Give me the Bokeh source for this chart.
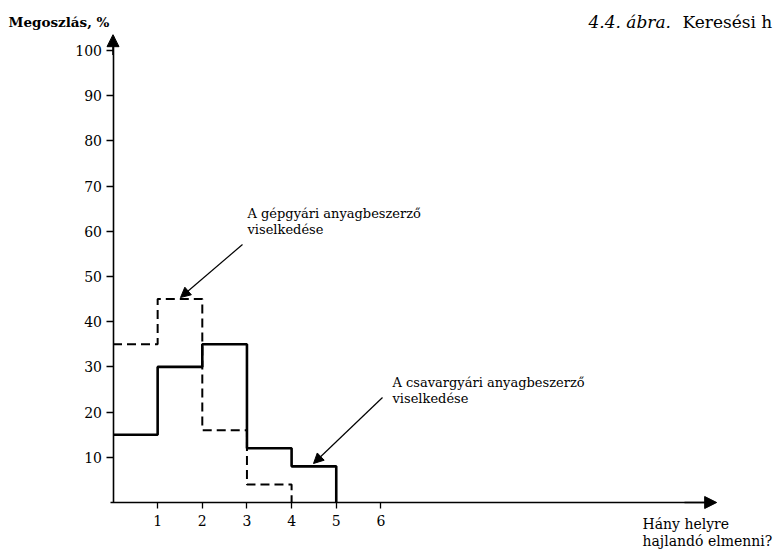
from bokeh.plotting import figure
from bokeh.models import Label, Arrow, NormalHead, FixedTicker, Range1d
from bokeh.embed import file_html
from bokeh.resources import INLINE

# ---- Data ----
x_edges = [0, 1, 2, 3, 4, 5]
csavargyari = [15, 30, 35, 12, 8]       # solid line
gepgyari = [35, 45, 16, 4]              # dashed line
y_ticks = [10, 20, 30, 40, 50, 60, 70, 80, 90, 100]
x_ticks = [1, 2, 3, 4, 5, 6]

SERIF = "DejaVu Serif"
W, H = 777, 551
X0_PX, X_UNIT = 112.5, 44.65     # pixel of x=0, pixels per unit
Y0_PX, Y_UNIT = 502.0, 4.52      # pixel of y=0, pixels per unit


def dx(px):
    return (px - X0_PX) / X_UNIT


def dy(py):
    return (Y0_PX - py) / Y_UNIT


p = figure(width=W, height=H, output_backend="svg", toolbar_location=None,
           x_range=Range1d(dx(0), dx(W)), y_range=Range1d(dy(H), dy(0)),
           min_border=0)
p.grid.visible = False
p.outline_line_color = None
p.background_fill_color = "white"
p.border_fill_color = "white"

for ax in (p.xaxis, p.yaxis):
    ax.fixed_location = 0
    ax.axis_line_color = "black"
    ax.axis_line_width = 1.6
    ax.major_tick_line_color = "black"
    ax.major_tick_line_width = 1.3
    ax.minor_tick_line_color = None
    ax.major_tick_in = 0
    ax.major_label_text_font = SERIF
    ax.major_label_text_color = "black"
    ax.major_label_text_font_size = "14px"

p.yaxis.ticker = FixedTicker(ticks=y_ticks)
p.yaxis.major_tick_out = 7
p.yaxis.major_label_standoff = 4
p.yaxis.bounds = (0, 103)
p.xaxis.ticker = FixedTicker(ticks=x_ticks)
p.xaxis.major_tick_out = 6
p.xaxis.major_label_standoff = 6
p.xaxis.bounds = (-0.06, 13.4)

# axis arrowheads
p.add_layout(Arrow(end=NormalHead(size=12, fill_color="black", line_color="black"),
                   x_start=0, y_start=99, x_end=0, y_end=103.5, line_width=1.6, line_color="black"))
p.add_layout(Arrow(end=NormalHead(size=12, fill_color="black", line_color="black"),
                   x_start=12.8, y_start=0, x_end=13.52, y_end=0, line_width=1.6, line_color="black"))

# step series
xs_solid = x_edges[:len(csavargyari) + 1]
ys_solid = csavargyari + [0]
xs_dash = x_edges[:len(gepgyari) + 1]
ys_dash = gepgyari + [0]
p.step(xs_solid, ys_solid, mode="after", line_color="black", line_width=2.6)
p.step(xs_dash, ys_dash, mode="after", line_color="black", line_width=2, line_dash="9 5")

# annotations
p.add_layout(Label(x=dx(247), y=dy(205), text="A gépgyári anyagbeszerző\nviselkedése",
                   text_font=SERIF, text_font_size="13px", text_baseline="top",
                   text_line_height=1.1, text_color="black"))
p.add_layout(Arrow(end=NormalHead(size=10, fill_color="black", line_color="black"),
                   x_start=dx(242), y_start=dy(244), x_end=dx(180), y_end=dy(297), line_width=1.2))
p.add_layout(Label(x=dx(392), y=dy(374), text="A csavargyári anyagbeszerző\nviselkedése",
                   text_font=SERIF, text_font_size="13px", text_baseline="top",
                   text_line_height=1.1, text_color="black"))
p.add_layout(Arrow(end=NormalHead(size=10, fill_color="black", line_color="black"),
                   x_start=dx(382), y_start=dy(397), x_end=dx(313), y_end=dy(463), line_width=1.2))

# axis titles
p.add_layout(Label(x=dx(8), y=dy(21), text="Megoszlás, %", text_font=SERIF,
                   text_font_size="13.5px", text_font_style="bold", text_baseline="alphabetic",
                   text_color="black"))
p.add_layout(Label(x=dx(642), y=dy(515), text="Hány helyre\nhajlandó elmenni?", text_font=SERIF,
                   text_font_size="14px", text_baseline="top", text_line_height=1.1,
                   text_color="black"))

# figure caption (cut at right edge in the reference)
p.add_layout(Label(x=dx(588), y=dy(21.5), text="4.4. ábra.", text_font=SERIF,
                   text_font_size="17px", text_font_style="italic", text_baseline="alphabetic",
                   text_color="black"))
p.add_layout(Label(x=dx(682), y=dy(21.5), text="Keresési h", text_font=SERIF,
                   text_font_size="17px", text_baseline="alphabetic", text_color="black"))

open("out.html", "w").write(file_html(p, INLINE))
